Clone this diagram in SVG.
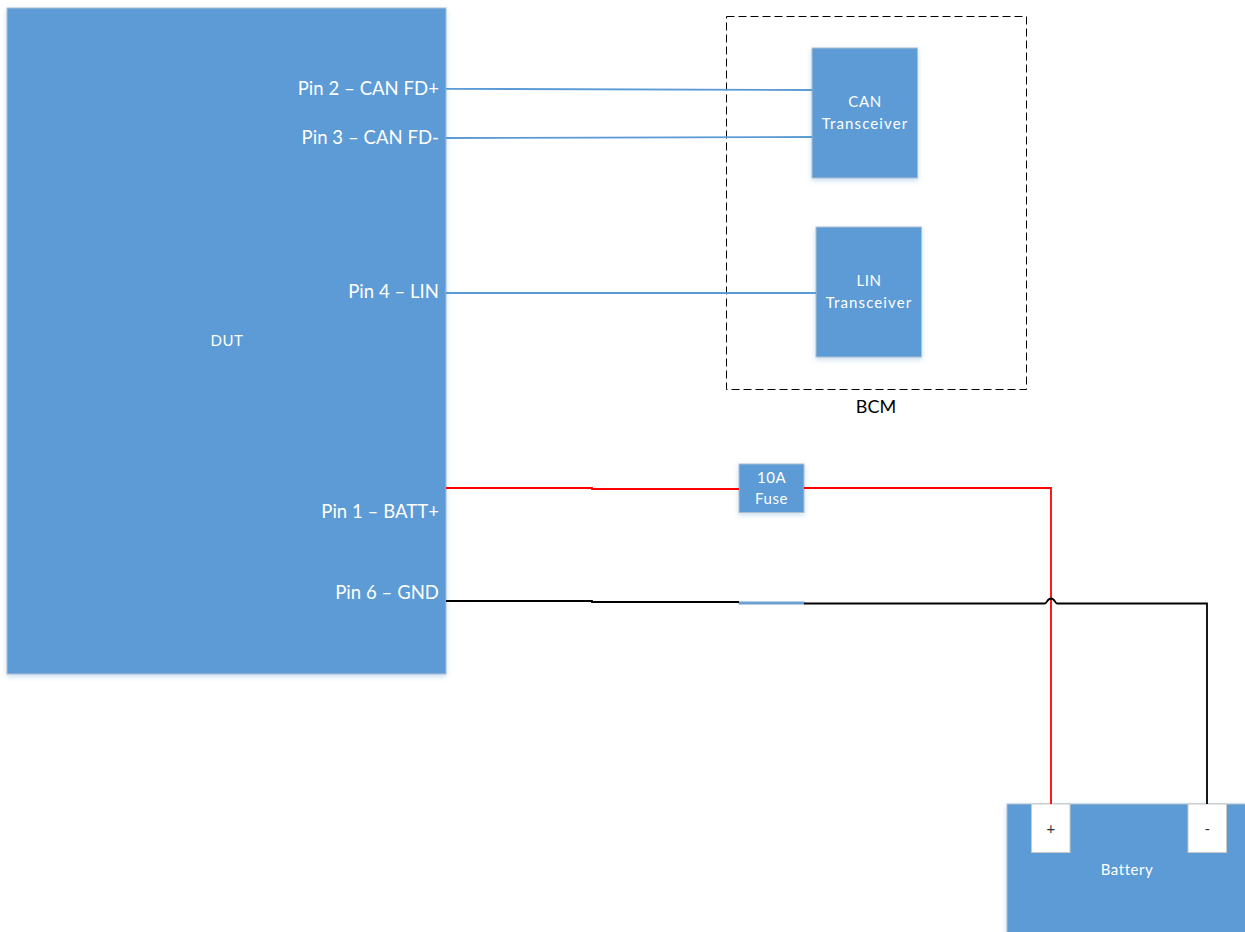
<svg xmlns="http://www.w3.org/2000/svg" width="1245" height="932" viewBox="0 0 1245 932">
<defs>
<filter id="sh" x="-10%" y="-10%" width="120%" height="125%"><feDropShadow dx="0" dy="2" stdDeviation="2.5" flood-color="#5b9bd5" flood-opacity="0.35"/></filter>
</defs>
<style>
text{font-family:Lato,"Open Sans","Liberation Sans",sans-serif;fill:#fff}
.b{fill:#5b9bd5;stroke:#b0bfd0;stroke-width:1;filter:url(#sh)}
.t{font-size:15px;letter-spacing:.55px;text-anchor:middle}
.x{letter-spacing:1.1px}
.p{font-size:18.500px;letter-spacing:.05px;text-anchor:end}
.w{fill:none;stroke-width:1.800}
.blue{stroke:#5b9bd5}
.red{stroke:#ff0000}
.blk{stroke:#000}
.term{fill:#fff;stroke:#c8c8c8;stroke-width:1}
</style>
<rect width="1245" height="932" fill="#fff"/>
<g id="bcm">
<rect x="726.500" y="16.500" width="300" height="373" fill="none" stroke="#000" stroke-width="1" stroke-dasharray="8 4"/>
<text x="876" y="413" class="t" style="fill:#000;font-size:18px;letter-spacing:0">BCM</text>
</g>
<g id="dut">
<rect class="b" x="7" y="8" width="439" height="666"/>
<text x="227" y="346" class="t">DUT</text>
<text x="439" y="95" class="p">Pin 2 – CAN FD+</text>
<text x="439" y="144" class="p">Pin 3 – CAN FD-</text>
<text x="439" y="298" class="p">Pin 4 – LIN</text>
<text x="439" y="518" class="p">Pin 1 – BATT+</text>
<text x="439" y="599" class="p">Pin 6 – GND</text>
</g>
<g id="can">
<rect class="b" x="812" y="48" width="105.500" height="130"/>
<text x="865" y="107" class="t">CAN</text>
<text x="865" y="129" class="t x">Transceiver</text>
</g>
<g id="lin">
<rect class="b" x="816" y="227" width="105.500" height="130"/>
<text x="869" y="286" class="t">LIN</text>
<text x="869" y="308" class="t x">Transceiver</text>
</g>
<g id="fuse">
<rect class="b" x="739" y="464" width="65" height="48.500"/>
<text x="771.500" y="483" class="t">10A</text>
<text x="771.500" y="504" class="t">Fuse</text>
</g>
<g id="fuse2">
<rect class="b" x="739" y="602" width="65" height="2" style="stroke:#7fa6cc"/>
</g>
<g id="battery">
<rect class="b" x="1007" y="804" width="260" height="150"/>
<text x="1127" y="875" class="t">Battery</text>
</g>
<g id="plus">
<rect class="term" x="1031.500" y="804" width="38.500" height="48.500"/>
<text x="1051" y="834" class="t" style="fill:#333">+</text>
</g>
<g id="minus">
<rect class="term" x="1188" y="804" width="38.500" height="48.500"/>
<text x="1207.500" y="834" class="t" style="fill:#333">-</text>
</g>
<g id="connectors">
<path class="w blue" d="M446 88.800L812 90"/>
<path class="w blue" d="M446 138L812 137"/>
<path class="w blue" d="M446 293H816"/>
<path class="w red" d="M446 488H592V489H739"/>
<path class="w red" d="M804 488H1051V804"/>
<path class="w blk" d="M446 601H592V602H739"/>
<path class="w blk" d="M804 603.500H1045C1047 603.500 1047 598.500 1051 598.500C1055 598.500 1055 603.500 1057 603.500H1207V804"/>
</g>
</svg>
